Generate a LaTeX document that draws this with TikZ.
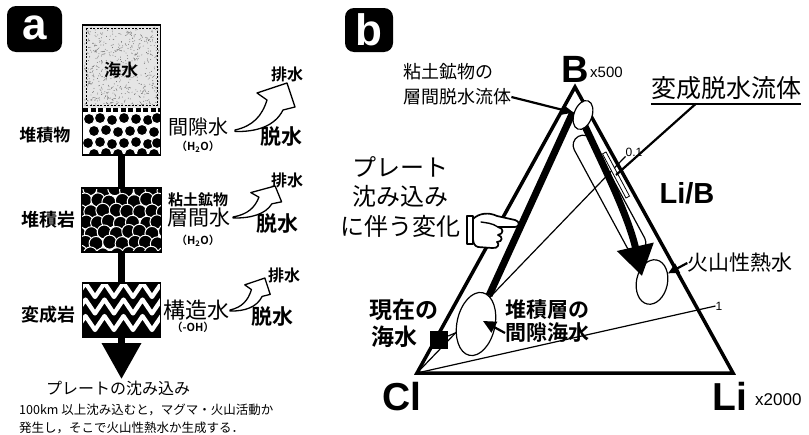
\documentclass[tikz,border=0pt]{standalone}
\usepackage{fontspec}
\usetikzlibrary{arrows.meta,shapes.geometric,calc}
\newfontfamily\jp{Noto Sans CJK JP}
\IfFontExistsTF{Noto Sans CJK JP Bold}
  {\newfontfamily\jpb{Noto Sans CJK JP Bold}}
  {\newfontfamily\jpb{Noto Sans CJK JP}[FakeBold=1.5]}
\newfontfamily\lat{Liberation Sans}
\newcommand\fsz[2]{\fontsize{#1}{#2}\selectfont}

\begin{document}
\begin{tikzpicture}[x=1pt,y=-1pt,
  badge/.style={fill=black, rounded corners=9pt, inner sep=0pt, text=white,
                font=\lat\bfseries\fsz{44}{44}},
  lbl/.style={inner sep=0pt},
  bar/.style={line width=7pt},
  thinline/.style={line width=1.2pt},
  tri/.style={line width=3.5pt, line join=miter},
  band/.style={line width=7pt},
  leader/.style={line width=2.2pt},
  pebble/.style={fill=black, draw=white, line width=1pt},
  handline/.style={fill=white, line width=1.7pt, line join=round},
  drainarrow/.pic={
    \draw[fill=white, line width=1.3pt, line join=round]
      (0,0) .. controls (18,-4) and (27,-14) .. (32,-30) -- (22,-37) -- (52,-47)
      -- (60,-23) -- (48,-20) .. controls (40,-4) and (22,2) .. (0,1.5) -- cycle;
  }]
\useasboundingbox (0,0) rectangle (809,434);

% ---------------- panel a ----------------
\node[badge, minimum width=55pt, minimum height=46pt] (ba) at (34.5,29) {\raisebox{2pt}{a}};

% sea water layer
\fill[gray!20] (82.5,25) rectangle (160.5,108);
\pgfmathsetseed{12}
\begin{scope}
  \clip (84,27) rectangle (159,106);
  \foreach \k in {1,...,420}{
    \pgfmathsetmacro\px{84+rnd*75}
    \pgfmathsetmacro\py{27+rnd*79}
    \fill[black!60] (\px,\py) circle[radius=0.45];
  }
  \foreach \k in {1,...,90}{
    \pgfmathsetmacro\px{84+rnd*75}
    \pgfmathsetmacro\py{27+rnd*79}
    \pgfmathsetmacro\pa{rnd*360}
    \draw[black!55, line width=0.4pt] (\px,\py) -- ++(\pa:3);
  }
\end{scope}
\draw[dash pattern=on 2pt off 1.5pt, line width=0.5pt] (86,28) rectangle (157,105);
\node[lbl, font=\jpb\fsz{17}{20}] (seaw) at (121,70) {海水};
\draw[line width=4pt, dash pattern=on 5pt off 2.5pt] (83,110) -- (160,110);

% sediment with pore water
\begin{scope}
  \clip (82.5,112) rectangle (160.5,155);
  \foreach \cx/\cy in {89/119,100/118,112/120,124/118,136/119,148/120,157/118,
                       94/131,106/130,118/132,130/131,142/130,154/132,
                       88/143,100/142,112/144,124/143,136/142,148/144,157/143,
                       94/154,106/153,118/154,130/154,142/153,154/154}
    \filldraw[pebble] (\cx,\cy) circle[radius=5.6];
\end{scope}
\node[draw, line width=1.8pt, minimum width=78pt, minimum height=130pt, inner sep=0] (col) at (121.5,90) {};

% sedimentary rock
\begin{scope}
  \clip (81.5,188) rectangle (161.5,252);
  \fill[white] (81.5,188) rectangle (161.5,252);
  \pgfmathsetseed{5}
  \foreach \j in {0,...,6}{
    \foreach \i in {0,...,7}{
      \pgfmathsetmacro\cx{79+\i*12.2+mod(\j,2)*6.1+(rnd-0.5)*3}
      \pgfmathsetmacro\cy{190+\j*10.6+(rnd-0.5)*3}
      \filldraw[pebble] (\cx,\cy) circle[radius=7];
    }
  }
\end{scope}
\node[draw, line width=1.8pt, minimum width=80pt, minimum height=64pt, inner sep=0] (rock) at (121.5,220) {};

% metamorphic rock
\begin{scope}
  \clip (82.5,283) rectangle (160.5,337);
  \fill (82.5,283) rectangle (160.5,337);
  \foreach \yb in {290,306.5,323}{
    \draw[white, line width=4.2pt, line join=round]
      (76,\yb+7) \foreach \k in {0,...,4}{ -- ({85.5+\k*19},\yb-7) -- ({95+\k*19},\yb+7) };
  }
\end{scope}
\node[draw, line width=1.8pt, minimum width=78pt, minimum height=54pt, inner sep=0] (meta) at (121.5,310) {};

\draw[bar] (col.south) -- (rock.north);
\draw[bar] (rock.south) -- (meta.north);
\coordinate (sinktip) at (121.5,379);
\draw[bar, -{Triangle[length=36pt,width=38pt]}] (meta.south) -- (sinktip);

% labels on the left
\node[lbl, font=\jpb\fsz{17}{20}] (lsed) at (45,135) {堆積物};
\node[lbl, font=\jpb\fsz{18}{20}] (lrock) at (48,220) {堆積岩};
\node[lbl, font=\jpb\fsz{18}{20}] (lmeta) at (48,315) {変成岩};

% water types and dewatering
\node[lbl, font=\jp\fsz{20}{22}] (w1) at (198,127) {間隙水};
\node[lbl, font=\jpb\fsz{11}{13}] (h1) at (198,147) {（H\textsubscript{2}O）};
\node[lbl, font=\jpb\fsz{16}{18}] (d1) at (287,74) {排水};
\node[lbl, font=\jpb\fsz{21}{23}] (x1) at (281,137) {脱水};
\pic at (235,130) {drainarrow};

\node[lbl, font=\jpb\fsz{15}{17}] (clay0) at (198,200) {粘土鉱物};
\node[lbl, font=\jp\fsz{21}{23}] (w2) at (199,218) {層間水};
\node[lbl, font=\jpb\fsz{11}{13}] (h2) at (198,241) {（H\textsubscript{2}O）};
\node[lbl, font=\jpb\fsz{16}{18}] (d2) at (287,180) {排水};
\node[lbl, font=\jpb\fsz{21}{23}] (x2) at (277,224) {脱水};
\pic[xscale=0.81, yscale=0.66] at (233,217) {drainarrow};

\node[lbl, font=\jp\fsz{22}{24}] (w3) at (196,310) {構造水};
\node[lbl, font=\jpb\fsz{11}{13}] (h3) at (193,327) {（-OH）};
\node[lbl, font=\jpb\fsz{16}{18}] (d3) at (284,275) {排水};
\node[lbl, font=\jpb\fsz{21}{23}] (x3) at (272,317) {脱水};
\pic[xscale=0.67, yscale=0.68] at (230,310) {drainarrow};

\node[lbl, font=\jp\fsz{16}{18}] (sinklbl) at (118,388) {プレートの沈み込み};
\node[lbl, font=\jp\fsz{12.5}{14}, anchor=west] (note1) at (19,410) {100km 以上沈み込むと，マグマ・火山活動か};
\node[lbl, font=\jp\fsz{12.5}{14}, anchor=west] (note2) at (19,428) {発生し，そこで火山性熱水か生成する．};

% ---------------- panel b ----------------
\node[badge, minimum width=48pt, minimum height=44pt] (bb) at (369,30) {b};

\coordinate (B) at (575,87);
\coordinate (Cl) at (417,373);
\coordinate (Li) at (733,373);

% ratio lines from the Cl corner
\node[lbl, font=\lat\fsz{12}{14}] (r01) at (634,152) {0.1};
\node[lbl, font=\lat\fsz{12}{14}] (r1) at (719,306) {1};
\draw[thinline] (Cl) -- (r01.south west);
\draw[thinline] (Cl) -- (r1.west);

\draw[tri] (B) -- (Li) -- (Cl) -- cycle;

% fields
\node[draw, thinline, rounded corners=10pt, minimum width=131pt, minimum height=20pt,
      rotate=-61.6, inner sep=0] (caps) at (609.5,194) {};
\node[draw, line width=0.8pt, fill=white, minimum width=50pt, minimum height=4pt,
      rotate=-62, inner sep=0] (sliver) at (616,175) {};
\node[ellipse, draw, thinline, fill=white, minimum width=31pt, minimum height=45pt,
      rotate=-12, inner sep=0] (volc) at (652,282) {};
\node[ellipse, draw, thinline, fill=white, minimum width=38pt, minimum height=64pt,
      rotate=-12, inner sep=0] (pore) at (476,324) {};

% subduction path and dewatering path
\coordinate (bandtop) at (573,112);
\draw[band] (bandtop) -- (pore);
\coordinate (shafttop) at (583,122);
\coordinate (shaftend) at (642,276);
\draw[band, -{Triangle[length=30pt,width=36pt]}]
  (shafttop) .. controls (603,165) and (628,215) .. (shaftend);
\node[ellipse, draw, thinline, fill=white, minimum width=18pt, minimum height=30pt,
      rotate=-20, inner sep=0] (clay) at (583,115) {};

% present sea water
\node[fill=black, minimum size=18pt, inner sep=0] (nowsea) at (439,340) {};
\draw[thinline] (nowsea) -- (pore);

% corner labels
\node[lbl, font=\lat\bfseries\fsz{38}{40}, anchor=base] (vB) at (575,82) {B};
\node[lbl, font=\lat\fsz{15}{17}, anchor=base west] (sB) at (590,77) {x500};
\node[lbl, font=\lat\bfseries\fsz{39}{40}, anchor=base west] (vCl) at (382,410) {Cl};
\node[lbl, font=\lat\bfseries\fsz{39}{40}, anchor=base west] (vLi) at (712,410) {Li};
\node[lbl, font=\lat\fsz{17}{19}, anchor=base west] (sLi) at (755,405) {x2000};
\node[lbl, font=\lat\bfseries\fsz{29}{31}] (lib) at (687,193) {Li/B};

% annotations
\node[lbl, font=\jp\fsz{18}{20}, anchor=west] (claya) at (403,72) {粘土鉱物の};
\node[lbl, font=\jp\fsz{18}{20}, anchor=west] (clayb) at (403,97) {層間脱水流体};
\draw[leader, -{Triangle[length=11pt,width=9pt]}] (clayb.east) -- (clay);

\node[lbl, font=\jp\fsz{25}{27}] (metaf) at (726,88) {変成脱水流体};
\draw[line width=1.5pt] ($(metaf.south west)+(0,4)$) -- ($(metaf.south east)+(0,4)$);
\draw[leader] ($(metaf.south west)+(45,4)$) -- (sliver.center);

\node[lbl, font=\jp\fsz{24}{29.5}, align=center] (plabel) at (400,197) {プレート\\沈み込み\\に伴う変化};

% pointing hand
\draw[handline] (467,216) rectangle (473,244);
\draw[handline]
  (473,219) .. controls (479,213) and (489,212) .. (497,216)
  -- (515,220) .. controls (520,221) and (520,227) .. (515,227)
  -- (498,227)
  .. controls (504,228) and (504,234) .. (498,235)
  .. controls (503,236) and (503,242) .. (497,242)
  .. controls (500,244) and (498,249) .. (492,248)
  -- (478,247) .. controls (474,246) and (473,242) .. (473,238) -- cycle;
\draw[line width=1.4pt, line cap=round] (481,222) .. controls (487,223) and (492,223) .. (498,227);

\node[lbl, font=\jp\fsz{21}{23}] (volcl) at (740,263) {火山性熱水};
\draw[leader, -{Triangle[length=11pt,width=10pt]}] (volcl.west) -- (volc);

\node[lbl, font=\jpb\fsz{21}{24}, anchor=west] (porea) at (505,310) {堆積層の};
\node[lbl, font=\jpb\fsz{21}{24}, anchor=west] (poreb) at (505,333) {間隙海水};
\draw[leader, -{Triangle[length=13pt,width=12pt]}] (poreb.west) -- ($(pore.center)+(7,-3)$);

\node[lbl, font=\jpb\fsz{23}{25}, anchor=west] (nowa) at (369,310) {現在の};
\node[lbl, font=\jpb\fsz{23}{25}, anchor=west] (nowb) at (371,337) {海水};
\end{tikzpicture}
\end{document}
